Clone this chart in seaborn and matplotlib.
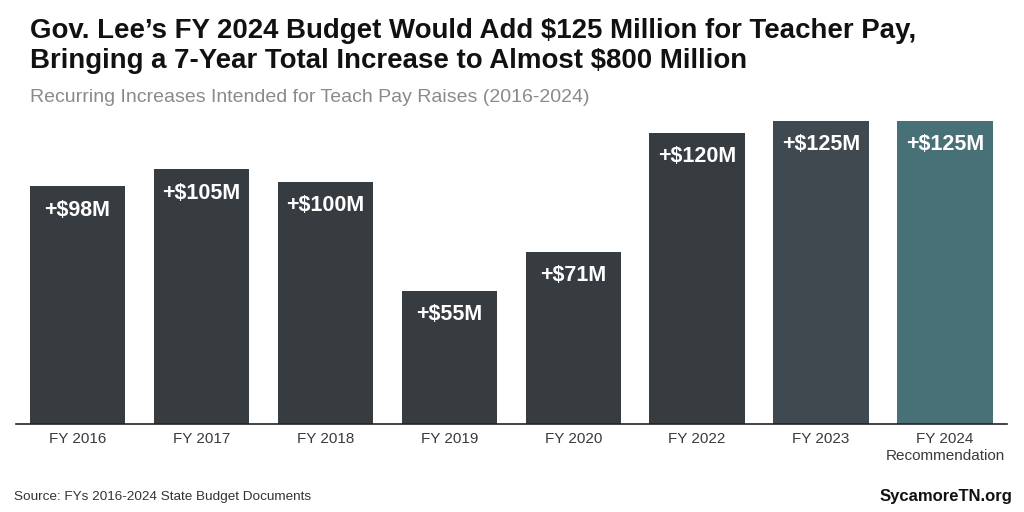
import matplotlib
matplotlib.use('Agg')
import matplotlib.pyplot as plt
import seaborn as sns
import pandas as pd

# Chart data
years = ['FY 2016', 'FY 2017', 'FY 2018', 'FY 2019', 'FY 2020', 'FY 2022', 'FY 2023', 'FY 2024\nRecommendation']
amounts = [98, 105, 100, 55, 71, 120, 125, 125]
bar_colors = ['#363c40', '#363c40', '#363c40', '#363c40', '#363c40', '#363c40', '#414950', '#477177']

df = pd.DataFrame({'year': years, 'amount': amounts})

sns.set_theme(style='white')
plt.rcParams['font.family'] = ['Liberation Sans', 'DejaVu Sans']

fig = plt.figure(figsize=(10.24, 5.12), dpi=100)
ax = fig.add_axes([15.5 / 1024, 88 / 512, 991.5 / 1024, 303 / 512])

sns.barplot(data=df, x='year', y='amount', hue='year', palette=bar_colors,
            legend=False, width=0.77, saturation=1, linewidth=0, ax=ax)

ax.set_ylim(0, 125)
ax.set_xlim(-0.5, len(years) - 0.5)
ax.set_xlabel('')
ax.set_ylabel('')
ax.set_yticks([])
for side in ['top', 'right', 'left']:
    ax.spines[side].set_visible(False)
ax.spines['bottom'].set_color('#222222')
ax.spines['bottom'].set_linewidth(1.2)
ax.tick_params(axis='x', length=0, pad=6, labelsize=11, labelcolor='#3a3a3a')

# Value labels inside the top of each bar
for i, v in enumerate(amounts):
    ax.annotate(f'+${v}M', xy=(i, v), xytext=(0, -9.5), textcoords='offset points',
                ha='center', va='top', color='white', fontsize=15.5, fontweight='bold')

fig.text(30 / 1024, 1 - 18 / 512,
         'Gov. Lee\u2019s FY 2024 Budget Would Add $125 Million for Teacher Pay,\n'
         'Bringing a 7-Year Total Increase to Almost $800 Million',
         ha='left', va='top', fontsize=19.9, fontweight='bold', color='#111111',
         linespacing=1.2)
fig.text(30 / 1024, 1 - 97 / 512, 'Recurring Increases Intended for Teach Pay Raises (2016-2024)',
         ha='left', va='center', fontsize=14, color='#8a8a8a')
fig.text(14 / 1024, 1 - 497 / 512, 'Source: FYs 2016-2024 State Budget Documents',
         ha='left', va='center', fontsize=9.7, color='#333333')
fig.text(1012 / 1024, 1 - 497 / 512, 'SycamoreTN.org',
         ha='right', va='center', fontsize=12, fontweight='bold', color='#111111')

fig.savefig('out.png', dpi=100)
